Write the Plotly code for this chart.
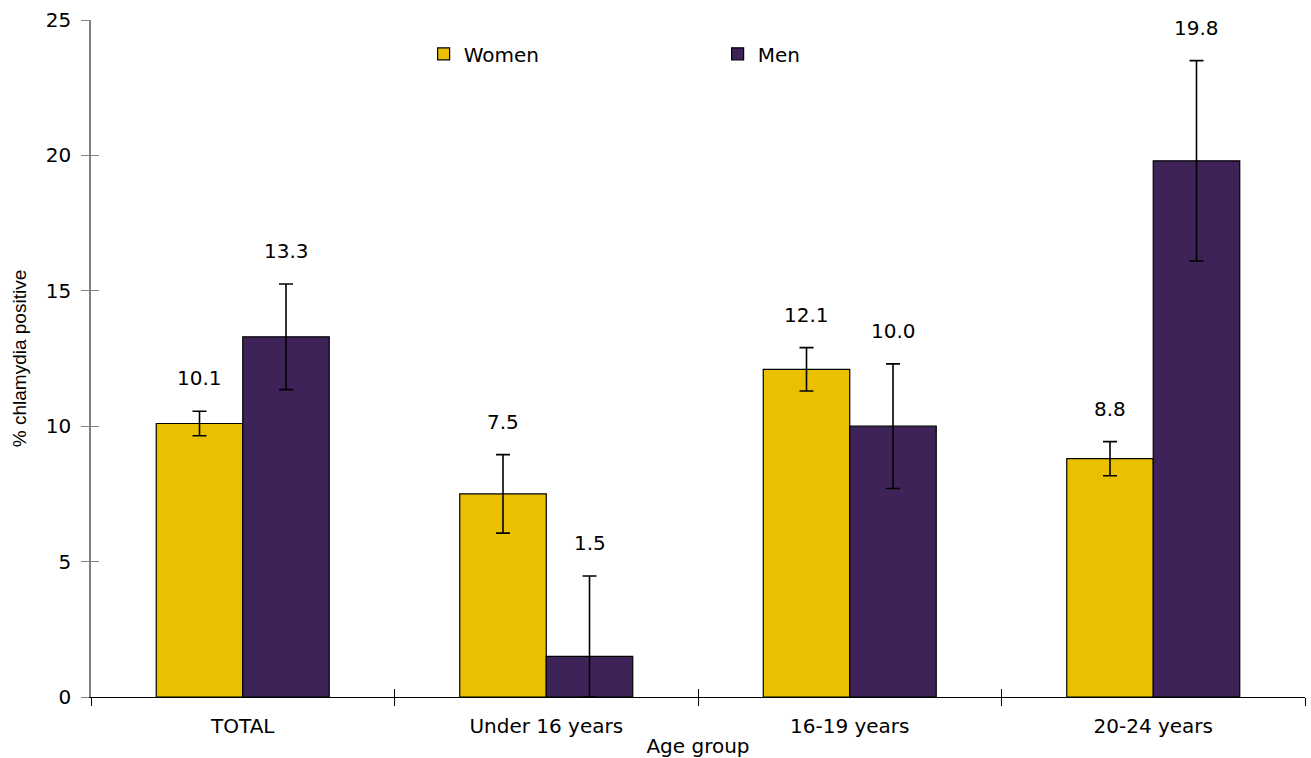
import plotly.graph_objects as go

# Chlamydia positivity by age group and sex, with 95% confidence intervals
age_groups = ["TOTAL", "Under 16 years", "16-19 years", "20-24 years"]
women_pct = [10.1, 7.5, 12.1, 8.8]
men_pct = [13.3, 1.5, 10.0, 19.8]
women_err_plus = [0.45, 1.45, 0.8, 0.63]
women_err_minus = [0.45, 1.45, 0.8, 0.63]
men_err_plus = [1.95, 2.97, 2.3, 3.7]
men_err_minus = [1.95, 1.5, 2.3, 3.7]
y_ticks = [0, 5, 10, 15, 20, 25]

WOMEN_COLOR = "#EBC000"
MEN_COLOR = "#3E2359"
FONT = "DejaVu Sans, Verdana, sans-serif"
BARGAP = 0.43

fig = go.Figure()


def add_series(name, values, eplus, eminus, color):
    fig.add_trace(go.Bar(
        name=name,
        x=age_groups,
        y=values,
        marker=dict(color=color, line=dict(color="black", width=1.2)),
        error_y=dict(type="data", symmetric=False, array=eplus, arrayminus=eminus,
                     color="black", thickness=1.6, width=7),
    ))


add_series("Women", women_pct, women_err_plus, women_err_minus, WOMEN_COLOR)
add_series("Men", men_pct, men_err_plus, men_err_minus, MEN_COLOR)

# value labels sit above the upper end of each error bar, centred on each bar
half_bar = (1 - BARGAP) / 4
for vals, ep, off in [(women_pct, women_err_plus, -half_bar), (men_pct, men_err_plus, half_bar)]:
    for i, (v, e) in enumerate(zip(vals, ep)):
        fig.add_annotation(
            x=i + off, y=v + e, xref="x", yref="y",
            text=f"{v:.1f}", showarrow=False,
            yanchor="middle", yshift=33,
            font=dict(family=FONT, size=20, color="black"),
        )

# invisible trace on overlay axes, used to draw inward tick marks
fig.add_trace(go.Scatter(x=age_groups, y=[None] * 4, xaxis="x2", yaxis="y2",
                         showlegend=False, hoverinfo="skip"))

fig.update_layout(
    width=1311, height=758,
    margin=dict(l=91, r=6, t=20, b=61),
    paper_bgcolor="white", plot_bgcolor="white",
    barmode="group", bargap=BARGAP, bargroupgap=0,
    font=dict(family=FONT, size=20, color="black"),
    showlegend=True,
    legend=dict(
        orientation="h", x=0.274, y=0.95, xanchor="left", yanchor="middle",
        entrywidth=249, entrywidthmode="pixels",
        font=dict(family=FONT, size=20), bgcolor="rgba(0,0,0,0)",
    ),
    xaxis=dict(
        type="category", categoryorder="array", categoryarray=age_groups,
        range=[-0.5, 3.5],
        tickson="boundaries", ticks="outside", ticklen=8, tickcolor="black",
        showline=True, linecolor="black", linewidth=1.2,
        showgrid=False, zeroline=False, ticklabelstandoff=11,
        tickfont=dict(family=FONT, size=20),
        title=dict(text="Age group", font=dict(family=FONT, size=20), standoff=1),
    ),
    yaxis=dict(
        range=[0, 25], tickvals=y_ticks, ticks="outside", ticklen=8,
        tickcolor="#808080", showline=True, linecolor="#808080", linewidth=1.5,
        showgrid=False, zeroline=False, ticklabelstandoff=6,
        tickfont=dict(family=FONT, size=20),
        title=dict(text="% chlamydia positive",
                   font=dict(family="Liberation Sans, Arial, sans-serif", size=19),
                   standoff=14),
    ),
    xaxis2=dict(
        type="category", categoryorder="array", categoryarray=age_groups,
        range=[-0.5, 3.5],
        overlaying="x", tickson="boundaries", ticks="inside", ticklen=8,
        tickcolor="black", showticklabels=False, showline=False,
        showgrid=False, zeroline=False,
    ),
    yaxis2=dict(
        range=[0, 25], tickvals=y_ticks, overlaying="y", ticks="inside", ticklen=8,
        tickcolor="#808080", showticklabels=False, showline=False,
        showgrid=False, zeroline=False,
    ),
)

fig.write_html("out.html")
